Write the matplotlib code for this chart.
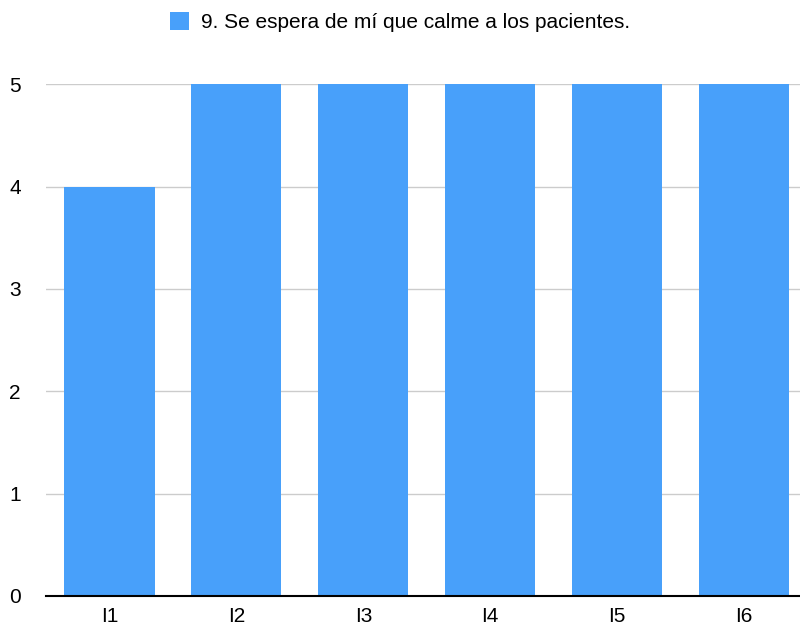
import matplotlib.pyplot as plt

categories = ["I1", "I2", "I3", "I4", "I5", "I6"]
values = [4, 5, 5, 5, 5, 5]
series_name = "9. Se espera de mí que calme a los pacientes."

plt.rcParams['font.family'] = ['Liberation Sans', 'DejaVu Sans']

fig = plt.figure(figsize=(8, 6.28), dpi=100)
ax = fig.add_axes([0.0575, 0.051, 0.9425, 0.815])

x = range(len(categories))
ax.bar(x, values, width=0.71, color="#48A0FA", label=series_name, zorder=2)

ax.set_xlim(-0.5, 5.44)
ax.set_ylim(0, 5)
ax.set_yticks([0, 1, 2, 3, 4, 5])
ax.set_xticks(list(x))
ax.set_xticklabels(categories)

ax.grid(axis="y", color="#cccccc", linewidth=1, zorder=0)
ax.set_axisbelow(True)
for side in ["top", "right", "left"]:
    ax.spines[side].set_visible(False)
ax.spines["bottom"].set_color("black")
ax.spines["bottom"].set_linewidth(1.5)
ax.spines["bottom"].set_zorder(3)
ax.tick_params(axis="both", length=0, labelsize=15)
ax.tick_params(axis="y", pad=18)
ax.tick_params(axis="x", pad=8)

fig.legend(loc="upper center", bbox_to_anchor=(0.5, 1.01), frameon=False,
           fontsize=15, handlelength=0.9, handleheight=0.9, handletextpad=0.6)

fig.savefig("out.png", dpi=100)
